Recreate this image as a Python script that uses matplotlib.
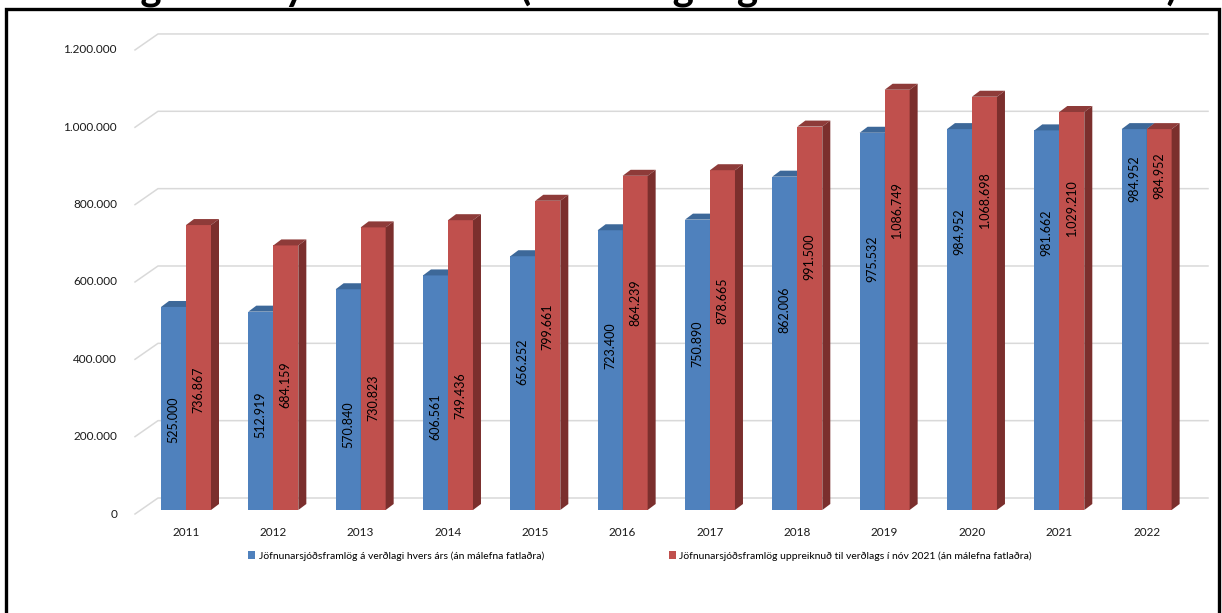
import matplotlib
matplotlib.use("Agg")
import matplotlib.pyplot as plt
from matplotlib.patches import Polygon, Rectangle, Patch
import numpy as np

plt.rcParams['font.family'] = ['Lato', 'DejaVu Sans']

# data
years = ['2011', '2012', '2013', '2014', '2015', '2016',
         '2017', '2018', '2019', '2020', '2021', '2022']
arlegt = [525000, 512919, 570840, 606561, 656252, 723400,
          750890, 862006, 975532, 984952, 981662, 984952]
uppreiknad = [736867, 684159, 730823, 749436, 799661, 864239,
              878665, 991500, 1086749, 1068698, 1029210, 984952]
yticks = [0, 200000, 400000, 600000, 800000, 1000000, 1200000]
legend_labels = ['Jöfnunarsjóðsframlög á verðlagi hvers árs (án málefna fatlaðra)',
                 'Jöfnunarsjóðsframlög uppreiknuð til verðlags í nóv 2021 (án málefna fatlaðra)']

# where the value labels sit inside the bars (value units, as in the original)
blue_label_y = [233000, 246000, 220000, 240000, 383000, 424000,
                429000, 517000, 649000, 719000, 716000, 856000]
red_label_y = [310000, 323000, 290000, 295000, 473000, 535000,
               540000, 654000, 776000, 802000, 781000, 864000]

# colours
blue = '#4F81BD'
blue_top = '#3D6899'
red = '#C0504D'
red_top = '#8E3B39'
red_side = '#7B2F2D'
grid_c = '#D9D9D9'

W, H = 1222, 613
PX_CAT = 87.33        # pixels per category
PX_VAL = 0.0003867    # pixels per value unit
X0, Y0 = 186, 510     # pixel of first category centre / value 0


def fmt(v):
    return '{:,}'.format(v).replace(',', '.')


fig = plt.figure(figsize=(W / 100, H / 100), dpi=100)
ax = fig.add_axes([0, 0, 1, 1])
ax.set_xlim((0 - X0) / PX_CAT, (W - X0) / PX_CAT)
ax.set_ylim(-(H - Y0) / PX_VAL, Y0 / PX_VAL)
ax.axis('off')

dxp = lambda p: p / PX_CAT
dyp = lambda p: p / PX_VAL

# back wall gridlines with the slanted side wall bit
for v in yticks:
    xs = [dxp(135 - X0), dxp(158 - X0), dxp(1208 - X0)]
    ys = [v - dyp(4), v + dyp(12), v + dyp(12)]
    ax.plot(xs, ys, color=grid_c, lw=1.1, zorder=1)
    ax.text(dxp(117 - X0), v - dyp(4), fmt(v), ha='right', va='center',
            fontsize=8.5, color='#1a1a1a')

x = np.arange(len(years))
w = dxp(25)
ddx, ddy = dxp(8), dyp(6)

for i in range(len(years)):
    for k, (vals, front, top, side) in enumerate([(arlegt, blue, blue_top, blue_top),
                                                 (uppreiknad, red, red_top, red_side)]):
        xl = x[i] - w + k * w
        xr = xl + w
        v = vals[i]
        z = 3 + 2 * i + k
        ax.add_patch(Rectangle((xl, 0), w, v, facecolor=front, edgecolor='none', zorder=z))
        ax.add_patch(Polygon([(xl, v), (xl + ddx, v + ddy), (xr + ddx, v + ddy), (xr, v)],
                             closed=True, facecolor=top, edgecolor='none', zorder=z))
        ax.add_patch(Polygon([(xr, 0), (xr + ddx, ddy), (xr + ddx, v + ddy), (xr, v)],
                             closed=True, facecolor=side, edgecolor='none', zorder=z))
    ax.text(x[i] - w / 2, blue_label_y[i], fmt(arlegt[i]), rotation=90,
            ha='center', va='center', fontsize=9, color='black', zorder=40)
    ax.text(x[i] + w / 2, red_label_y[i], fmt(uppreiknad[i]), rotation=90,
            ha='center', va='center', fontsize=9, color='black', zorder=40)
    ax.text(x[i], -dyp(22), years[i], ha='center', va='center',
            fontsize=8.5, color='#1a1a1a')

# legend
handles = [Patch(facecolor=blue), Patch(facecolor=red)]
fig.legend(handles, legend_labels, loc='center', ncol=2,
           bbox_to_anchor=(640 / W, 1 - 556 / H), frameon=False,
           fontsize=7.5, handlelength=0.7, handleheight=0.7,
           handletextpad=0.3, columnspacing=12.0)

# chart border (title sits above, mostly cut off)
fig.patches.append(Rectangle((6 / W, -0.05), 1213 / W, 1.05 - 9 / H,
                             transform=fig.transFigure, fill=False,
                             edgecolor='black', lw=2.4, zorder=50))
fig.text(15 / W, 1 - 1 / H, 'Framlög til alls yfir tímabilið (á verðlagi og nóvember 2021 ársins)',
         ha='left', va='baseline', fontsize=29, fontweight='bold', color='black')

fig.savefig('out.png', dpi=100)
